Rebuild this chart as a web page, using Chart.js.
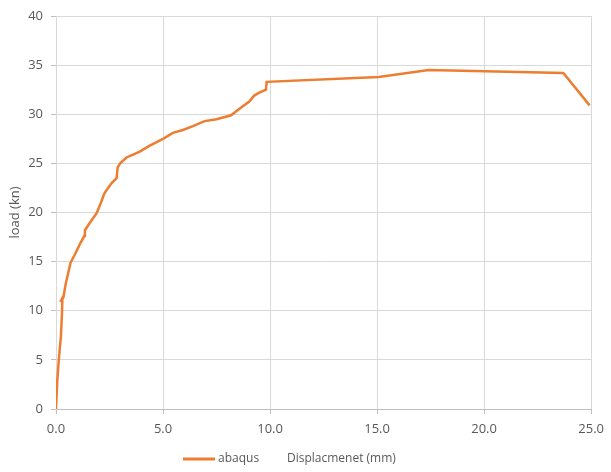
<!DOCTYPE html>
<html>
<head>
<meta charset="utf-8">
<script src="https://cdn.jsdelivr.net/npm/chart.js@4/dist/chart.umd.min.js"></script>
<style>
  html, body { margin: 0; padding: 0; background: #fff; }
  #wrap { width: 611px; height: 472px; position: relative; }
</style>
</head>
<body>
<div id="wrap"><canvas id="chart"></canvas></div>
<script>
/* ===== Datos ===== */
const seriesName = 'abaqus';
const xTitle = 'Displacmenet (mm)';
const yTitle = 'load (kn)';
const dispMm = [0, 0.06, 0.15, 0.23, 0.28, 0.30, 0.20, 0.35, 0.45, 0.68, 0.90, 1.12, 1.32, 1.35, 1.60, 1.89, 2.10, 2.25, 2.40, 2.60, 2.83, 2.88, 3.00, 3.29, 3.60, 3.91, 4.38, 5.00, 5.46, 5.93, 6.40, 6.94, 7.50, 8.18, 8.60, 9.03, 9.26, 9.50, 9.81, 9.84, 15.08, 17.41, 23.70, 24.93];
const loadKn = [0, 2.9, 5.5, 7.4, 9.8, 11.3, 10.9, 11.4, 12.7, 14.9, 15.8, 16.8, 17.6, 18.2, 19.0, 19.9, 21.0, 21.9, 22.4, 23.0, 23.5, 24.6, 25.0, 25.6, 25.9, 26.2, 26.8, 27.5, 28.1, 28.4, 28.8, 29.3, 29.5, 29.9, 30.6, 31.3, 31.9, 32.2, 32.5, 33.3, 33.8, 34.5, 34.2, 30.9];
const xTicks = [0, 5, 10, 15, 20, 25];
const yTicks = [0, 5, 10, 15, 20, 25, 30, 35, 40];

const ORANGE = '#ED7D31';
const TEXT = '#595959';
const FONT = '"Open Sans", "Liberation Sans", sans-serif';

/* leyenda + titulo del eje X en la misma linea (como Excel) */
const bottomLegend = {
  id: 'bottomLegend',
  afterDraw(chart) {
    const ctx = chart.ctx;
    const y = 459;
    ctx.save();
    ctx.strokeStyle = ORANGE;
    ctx.lineWidth = 3;
    ctx.beginPath();
    ctx.moveTo(183, y);
    ctx.lineTo(215, y);
    ctx.stroke();
    ctx.fillStyle = TEXT;
    ctx.textBaseline = 'middle';
    ctx.textAlign = 'left';
    ctx.font = '12px ' + FONT;
    ctx.fillText(seriesName, 218, y);
    ctx.fillText(xTitle, 287, y);
    ctx.restore();
  }
};

new Chart(document.getElementById('chart'), {
  type: 'scatter',
  data: {
    datasets: [{
      label: seriesName,
      data: dispMm.map((x, i) => ({ x, y: loadKn[i] })),
      showLine: true,
      borderColor: ORANGE,
      backgroundColor: ORANGE,
      borderWidth: 2.5,
      pointRadius: 0,
      tension: 0
    }]
  },
  options: {
    responsive: true,
    maintainAspectRatio: false,
    animation: false,
    layout: { padding: { top: 16, right: 18, left: 0, bottom: 0 } },
    plugins: { legend: { display: false }, tooltip: { enabled: false } },
    scales: {
      x: {
        type: 'linear',
        min: 0, max: 25,
        afterBuildTicks: s => { s.ticks = xTicks.map(v => ({ value: v })); },
        afterFit: s => { s.height = 63; },
        grid: { color: '#d9d9d9', tickLength: 5, tickColor: '#bfbfbf' },
        border: { color: '#bfbfbf' },
        ticks: { color: TEXT, font: { family: FONT, size: 13 }, padding: 7, maxRotation: 0,
                 callback: v => Number(v).toFixed(1) }
      },
      y: {
        type: 'linear',
        min: 0, max: 40,
        afterBuildTicks: s => { s.ticks = yTicks.map(v => ({ value: v })); },
        afterFit: s => { s.width = 56; },
        grid: { color: '#d9d9d9', tickLength: 5, tickColor: '#bfbfbf' },
        border: { color: '#d9d9d9' },
        ticks: { color: TEXT, font: { family: FONT, size: 13 }, padding: 8 },
        title: { display: true, text: yTitle, color: TEXT, font: { family: FONT, size: 13 }, padding: { top: 7, bottom: 0 } }
      }
    }
  },
  plugins: [bottomLegend]
});
</script>
</body>
</html>
